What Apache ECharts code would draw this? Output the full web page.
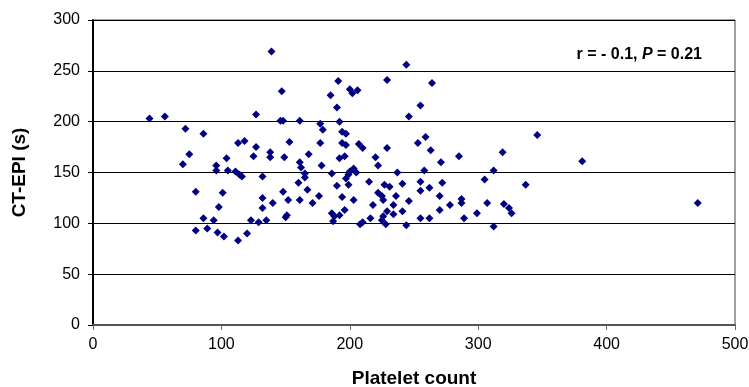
<!DOCTYPE html>
<html>
<head>
<meta charset="utf-8">
<script src="https://cdn.jsdelivr.net/npm/echarts@6/dist/echarts.min.js"></script>
<style>
  html, body { margin: 0; padding: 0; background: #fff; }
  #chart { width: 749px; height: 387px; }
</style>
</head>
<body>
<div id="chart"></div>
<script>
// platelet count vs CT-EPI (s)
const plateletCount = [
  44, 56, 72, 86, 75, 70, 96, 96, 104, 105, 113, 118, 111, 114, 116, 127, 139, 147, 146, 148,
  161, 127, 125, 138, 138, 153, 149, 168, 161, 162, 165, 165, 132, 80, 101, 98, 86, 94, 80, 89,
  97, 102, 113, 120, 123, 129, 135, 132, 132, 140, 148, 152, 150, 151, 160, 161, 167, 185, 191, 190,
  192, 177, 179, 194, 197, 194, 197, 177, 192, 196, 178, 186, 190, 197, 199, 199, 176, 171, 186, 188,
  192, 187, 196, 200, 202, 206, 229, 244, 264, 255, 246, 207, 210, 229, 220, 222, 253, 259, 263, 271,
  285, 319, 312, 305, 258, 237, 203, 205, 200, 255, 255, 262, 272, 270, 278, 270, 215, 227, 231, 241,
  236, 222, 225, 226, 246, 203, 194, 218, 234, 241, 229, 226, 225, 228, 216, 234, 208, 210, 244, 255,
  262, 346, 337, 287, 287, 307, 320, 324, 326, 299, 289, 312, 381, 471
]
const ctEpi = [
  203, 205, 193, 188, 168, 158, 157, 152, 164, 152, 179, 181, 151, 148, 146, 207, 269, 230, 201, 201,
  201, 175, 166, 170, 165, 180, 165, 168, 160, 155, 149, 145, 146, 131, 130, 116, 105, 103, 93, 95,
  91, 87, 83, 90, 103, 101, 103, 125, 115, 120, 131, 123, 106, 108, 140, 123, 133, 226, 240, 214,
  200, 198, 192, 190, 188, 179, 177, 179, 164, 166, 157, 149, 137, 144, 148, 138, 127, 120, 110, 107,
  108, 102, 113, 232, 228, 231, 241, 256, 238, 216, 205, 178, 174, 174, 165, 157, 179, 185, 172, 160,
  166, 170, 152, 143, 152, 150, 154, 150, 151, 141, 132, 135, 140, 127, 118, 113, 141, 138, 136, 139,
  127, 130, 127, 123, 122, 123, 126, 118, 118, 112, 112, 107, 103, 99, 105, 109, 99, 101, 98, 105,
  105, 187, 138, 124, 120, 120, 119, 115, 110, 110, 105, 97, 161, 120
]
const xTicks = [0, 100, 200, 300, 400, 500]
const yTicks = [0, 50, 100, 150, 200, 250, 300]

const points = plateletCount.map((x, i) => [x, ctEpi[i]])

const chart = echarts.init(document.getElementById('chart'))
chart.setOption({
  animation: false,
  backgroundColor: '#fff',
  textStyle: { fontFamily: 'Liberation Sans' },
  grid: {
    left: 93,
    right: 14,
    top: 20,
    bottom: 62,
    outerBoundsMode: 'none',
    show: true,
    borderColor: '#444',
    borderWidth: 1
  },
  xAxis: {
    type: 'value',
    min: xTicks[0],
    max: xTicks[xTicks.length - 1],
    interval: 100,
    name: 'Platelet count',
    nameLocation: 'middle',
    nameGap: 44,
    nameTextStyle: { color: '#000', fontSize: 19, fontWeight: 'bold' },
    axisLine: { lineStyle: { color: '#555', width: 2 } },
    axisTick: { show: true, length: 5, lineStyle: { color: '#666' } },
    axisLabel: { color: '#000', fontSize: 16, margin: 12 },
    splitLine: { show: false }
  },
  yAxis: {
    type: 'value',
    min: yTicks[0],
    max: yTicks[yTicks.length - 1],
    interval: 50,
    name: 'CT-EPI (s)',
    nameLocation: 'middle',
    nameGap: 64,
    nameTextStyle: { color: '#000', fontSize: 19, fontWeight: 'bold' },
    axisLine: { show: true, lineStyle: { color: '#000', width: 2 } },
    axisTick: { show: true, length: 5, lineStyle: { color: '#000' } },
    axisLabel: { color: '#000', fontSize: 16, margin: 13 },
    splitLine: { show: true, lineStyle: { color: '#000', width: 1 } }
  },
  graphic: [{
    type: 'text',
    right: 47,
    top: 47,
    style: {
      text: '{b|r = - 0.1, }{i|P}{b| = 0.21}',
      rich: {
        b: { fontSize: 16, fontWeight: 'bold', fill: '#000', fontFamily: 'Liberation Sans' },
        i: { fontSize: 16, fontWeight: 'bold', fontStyle: 'italic', fill: '#000', fontFamily: 'Liberation Sans' }
      }
    }
  }],
  series: [{
    type: 'scatter',
    symbol: 'diamond',
    symbolSize: 8,
    itemStyle: { color: '#000080', opacity: 1 },
    data: points
  }]
})
</script>
</body>
</html>
